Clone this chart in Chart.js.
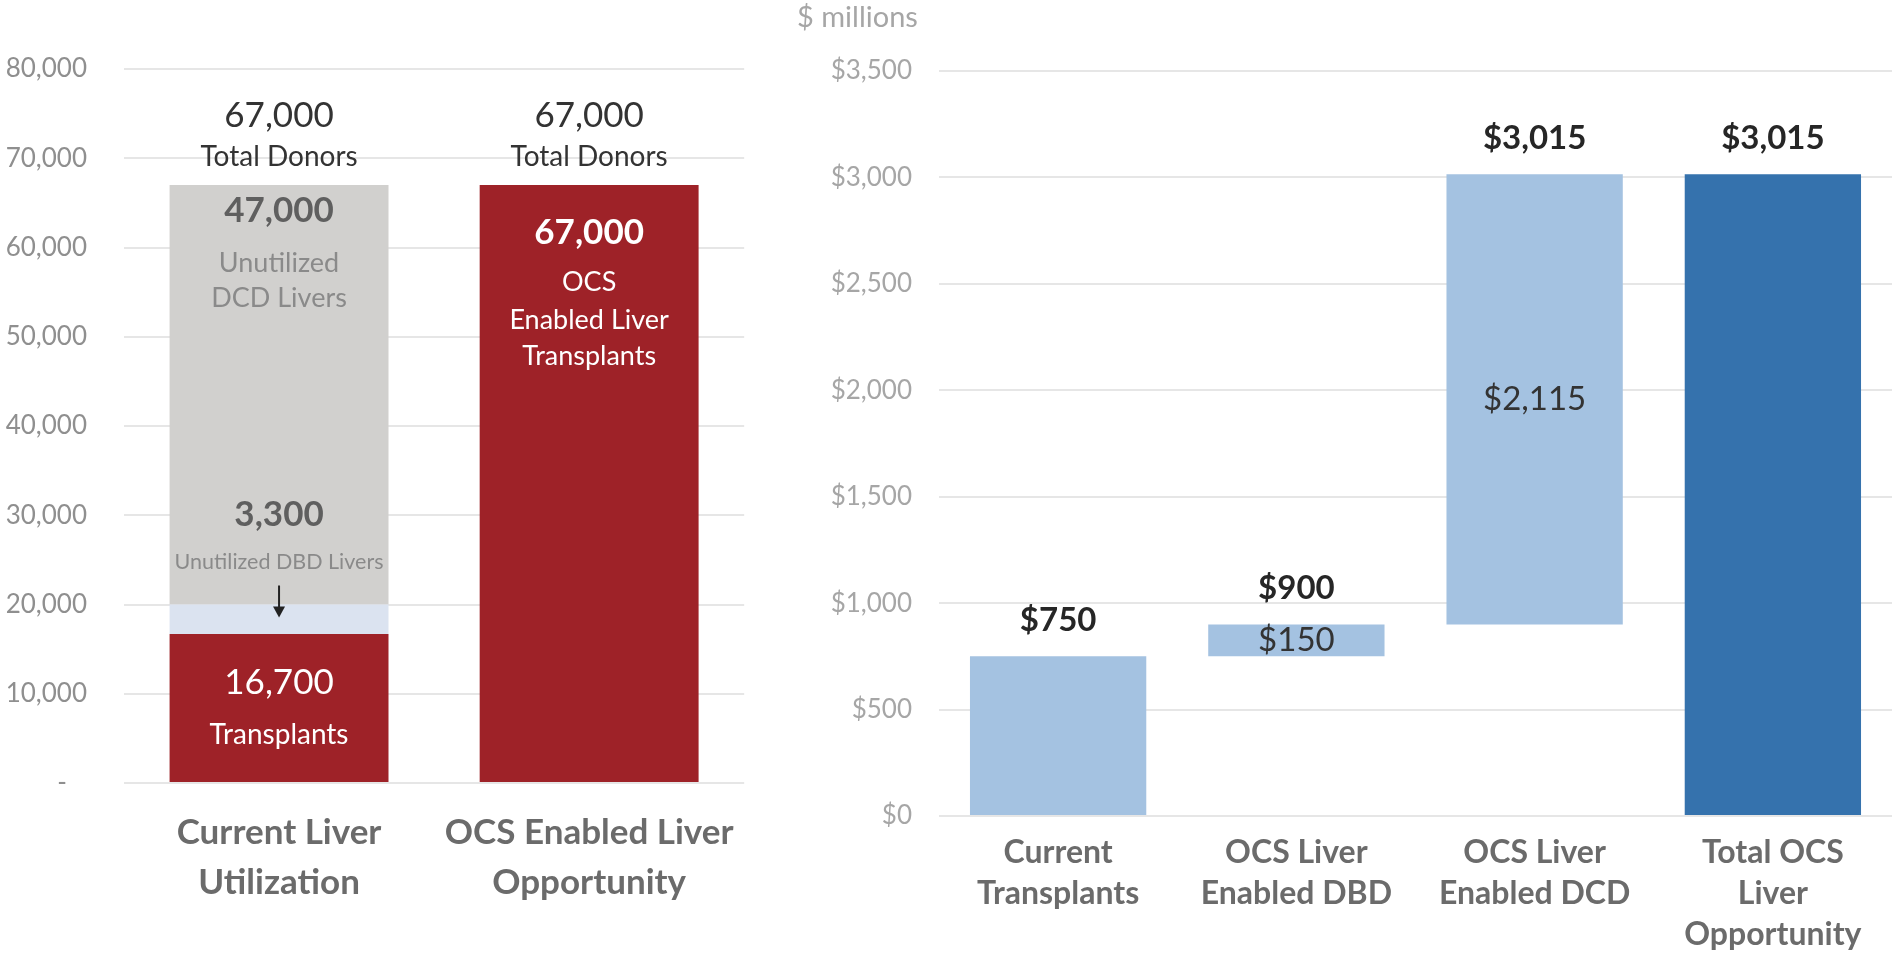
<!DOCTYPE html>
<html>
<head>
<meta charset="utf-8">
<title>OCS Liver Opportunity</title>
<script src="https://cdn.jsdelivr.net/npm/chart.js@4.4.0/dist/chart.umd.min.js"></script>
<style>
    html, body { margin: 0; padding: 0; background: #ffffff; }
    #leftPanel { position: absolute; left: 0; top: 0; width: 760px; height: 959px; }
    #rightPanel { position: absolute; left: 760px; top: 0; width: 1132px; height: 959px; }
</style>
</head>
<body>
<div id="leftPanel"><canvas id="donorChart"></canvas></div>
<div id="rightPanel"><canvas id="valueChart"></canvas></div>
<script>
// left panel - donor livers
const donorCategories = [['Current Liver', 'Utilization'], ['OCS Enabled Liver', 'Opportunity']];
const transplants = [16700, 0];
const unutilizedDBD = [3300, 0];
const unutilizedDCD = [47000, 0];
const ocsTransplants = [0, 67000];
const totalDonors = [67000, 67000];
const donorTicks = ['-', '10,000', '20,000', '30,000', '40,000', '50,000', '60,000', '70,000', '80,000'];

// right panel - waterfall, $ millions
const valueCategories = [['Current', 'Transplants'], ['OCS Liver', 'Enabled DBD'], ['OCS Liver', 'Enabled DCD'], ['Total OCS', 'Liver', 'Opportunity']];
const valueStart = [0, 750, 900, 0];
const valueEnd = [750, 900, 3015, 3015];
const valueTopLabels = ['$750', '$900', '$3,015', '$3,015'];
const valueStepLabels = ['', '$150', '$2,115', ''];
const valueTicks = ['$0', '$500', '$1,000', '$1,500', '$2,000', '$2,500', '$3,000', '$3,500'];

const RED = '#9e2228';
const GRAY = '#d1d0ce';
const PALE_BLUE = '#dbe3f0';
const LIGHT_BLUE = '#a4c2e1';
const DARK_BLUE = '#3572ad';
const GRID = '#e6e6e6';

Chart.defaults.font.family = 'Lato';

function drawText(ctx, str, x, y, size, weight, color) {
    ctx.font = `${weight} ${size}px Lato`;
    ctx.fillStyle = color;
    ctx.fillText(str, x, y);
}

const fmt = (v) => v.toLocaleString('en-US');

const donorLabels = {
    id: 'donorLabels',
    afterDatasetsDraw(chart) {
        const ctx = chart.ctx;
        const xs = chart.scales.x, ys = chart.scales.y;
        ctx.save();
        ctx.textAlign = 'center';
        ctx.textBaseline = 'middle';

        // totals above the bars
        totalDonors.forEach((v, i) => {
            const cx = xs.getPixelForValue(i);
            const top = ys.getPixelForValue(v);
            drawText(ctx, fmt(v), cx, top - 69, 35, 'normal', '#333333');
            drawText(ctx, 'Total Donors', cx, top - 28, 28, 'normal', '#333333');
        });

        // current utilization bar
        const cx = xs.getPixelForValue(0);
        const dcdTop = ys.getPixelForValue(transplants[0] + unutilizedDBD[0] + unutilizedDCD[0]);
        drawText(ctx, fmt(unutilizedDCD[0]), cx, dcdTop + 26, 35, 'bold', '#5f5f5f');
        drawText(ctx, 'Unutilized', cx, dcdTop + 78, 27, 'normal', '#8a8a8a');
        drawText(ctx, 'DCD Livers', cx, dcdTop + 113, 27, 'normal', '#8a8a8a');

        const dbdTop = ys.getPixelForValue(transplants[0] + unutilizedDBD[0]);
        drawText(ctx, fmt(unutilizedDBD[0]), cx, dbdTop - 90, 35, 'bold', '#5f5f5f');
        drawText(ctx, 'Unutilized DBD Livers', cx, dbdTop - 42, 21.5, 'normal', '#8a8a8a');

        // arrow into the DBD segment
        ctx.strokeStyle = '#222222';
        ctx.fillStyle = '#222222';
        ctx.lineWidth = 2;
        ctx.beginPath();
        ctx.moveTo(cx, dbdTop - 19);
        ctx.lineTo(cx, dbdTop + 4);
        ctx.stroke();
        ctx.beginPath();
        ctx.moveTo(cx - 6, dbdTop + 2);
        ctx.lineTo(cx + 6, dbdTop + 2);
        ctx.lineTo(cx, dbdTop + 13);
        ctx.closePath();
        ctx.fill();

        const txTop = ys.getPixelForValue(transplants[0]);
        drawText(ctx, fmt(transplants[0]), cx, txTop + 49, 35, 'normal', '#ffffff');
        drawText(ctx, 'Transplants', cx, txTop + 101, 28, 'normal', '#ffffff');

        // OCS opportunity bar
        const ox = xs.getPixelForValue(1);
        const ocsTop = ys.getPixelForValue(ocsTransplants[1]);
        drawText(ctx, fmt(ocsTransplants[1]), ox, ocsTop + 48, 35, 'bold', '#ffffff');
        drawText(ctx, 'OCS', ox, ocsTop + 97, 27, 'normal', '#ffffff');
        drawText(ctx, 'Enabled Liver', ox, ocsTop + 135, 27, 'normal', '#ffffff');
        drawText(ctx, 'Transplants', ox, ocsTop + 171, 27, 'normal', '#ffffff');
        ctx.restore();
    }
};

const valueLabels = {
    id: 'valueLabels',
    afterDatasetsDraw(chart) {
        const ctx = chart.ctx;
        const xs = chart.scales.x, ys = chart.scales.y;
        ctx.save();
        ctx.textAlign = 'center';
        ctx.textBaseline = 'middle';
        valueEnd.forEach((v, i) => {
            const cx = xs.getPixelForValue(i);
            drawText(ctx, valueTopLabels[i], cx, ys.getPixelForValue(v) - 36, 33, 'bold', '#262626');
            if (valueStepLabels[i]) {
                const mid = ys.getPixelForValue((valueStart[i] + v) / 2);
                drawText(ctx, valueStepLabels[i], cx, mid, 33, 'normal', '#333333');
            }
        });
        // unit note above the axis
        ctx.textAlign = 'left';
        drawText(ctx, '$ millions', chart.chartArea.left - 142, chart.chartArea.top - 53, 29, 'normal', '#a6a6a6');
        ctx.restore();
    }
};

new Chart(document.getElementById('donorChart').getContext('2d'), {
    type: 'bar',
    data: {
        labels: donorCategories,
        datasets: [
            { label: 'Transplants', data: transplants, backgroundColor: RED },
            { label: 'Unutilized DBD Livers', data: unutilizedDBD, backgroundColor: PALE_BLUE },
            { label: 'Unutilized DCD Livers', data: unutilizedDCD, backgroundColor: GRAY },
            { label: 'OCS Enabled Liver Transplants', data: ocsTransplants, backgroundColor: RED }
        ]
    },
    options: {
        responsive: true,
        maintainAspectRatio: false,
        animation: false,
        layout: { padding: { top: 69, right: 6, left: 0, bottom: 0 } },
        datasets: { bar: { barPercentage: 0.706, categoryPercentage: 1 } },
        plugins: { legend: { display: false }, tooltip: { enabled: false } },
        scales: {
            x: {
                stacked: true,
                grid: { display: false, drawTicks: false },
                border: { display: false },
                ticks: { color: '#6b6b6b', padding: 25, font: { size: 35, weight: 'bold', lineHeight: 1.43 } },
                afterFit: (scale) => { scale.height = 176; }
            },
            y: {
                stacked: true,
                min: 0,
                max: 80000,
                grid: { color: GRID, lineWidth: 2, drawTicks: false },
                border: { display: false },
                ticks: {
                    stepSize: 10000,
                    color: '#8f8f8f',
                    padding: 37,
                    font: { size: 26 },
                    callback: (v, i) => (i === 0 ? donorTicks[0] + '   ' : donorTicks[i])
                },
                afterFit: (scale) => { scale.width = 124; }
            }
        }
    },
    plugins: [donorLabels]
});

new Chart(document.getElementById('valueChart').getContext('2d'), {
    type: 'bar',
    data: {
        labels: valueCategories,
        datasets: [{
            label: '$ millions',
            data: valueStart.map((s, i) => [s, valueEnd[i]]),
            backgroundColor: [LIGHT_BLUE, LIGHT_BLUE, LIGHT_BLUE, DARK_BLUE]
        }]
    },
    options: {
        responsive: true,
        maintainAspectRatio: false,
        animation: false,
        layout: { padding: { top: 71, right: 0, left: 0, bottom: 0 } },
        datasets: { bar: { barPercentage: 0.74, categoryPercentage: 1 } },
        plugins: { legend: { display: false }, tooltip: { enabled: false } },
        scales: {
            x: {
                grid: { display: false, drawTicks: false },
                border: { display: false },
                ticks: { color: '#6b6b6b', padding: 16, font: { size: 32, weight: 'bold', lineHeight: 1.28 } },
                afterFit: (scale) => { scale.height = 143; }
            },
            y: {
                min: 0,
                max: 3500,
                grid: { color: GRID, lineWidth: 2, drawTicks: false },
                border: { display: false },
                ticks: {
                    stepSize: 500,
                    color: '#a6a6a6',
                    padding: 27,
                    font: { size: 26 },
                    callback: (v, i) => valueTicks[i]
                },
                afterFit: (scale) => { scale.width = 179; }
            }
        }
    },
    plugins: [valueLabels]
});
</script>
</body>
</html>
